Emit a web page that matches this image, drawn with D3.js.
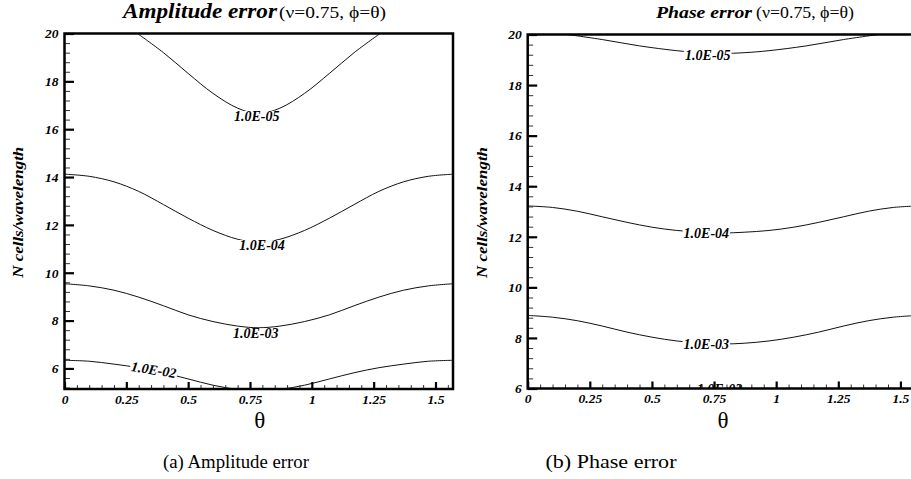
<!DOCTYPE html>
<html>
<head>
<meta charset="utf-8">
<script src="https://cdn.jsdelivr.net/npm/d3@7"></script>
<style>
   body { margin: 0; background: #fff; }
   svg { display: block; }
</style>
</head>
<body>
<div id="chart"></div>
<script>
// contour levels (theta in radians, N cells/wavelength)
var theta_full = [0, 0.1, 0.2, 0.3, 0.4, 0.5, 0.6, 0.7, 0.785, 0.871, 0.971, 1.071, 1.171, 1.271, 1.371, 1.471, 1.571];

// (a) amplitude error
var amp_theta_1e5 = [0.295, 0.4, 0.5, 0.6, 0.7, 0.785, 0.871, 0.971, 1.071, 1.171, 1.276];
var amp_n_1e5 = [20.0, 19.2, 18.33, 17.5, 16.88, 16.65, 16.88, 17.5, 18.33, 19.2, 20.0];
var amp_n_1e4 = [14.12, 14.03, 13.80, 13.40, 12.85, 12.28, 11.77, 11.40, 11.27, 11.40, 11.77, 12.28, 12.85, 13.40, 13.80, 14.03, 14.12];
var amp_n_1e3 = [9.54, 9.45, 9.27, 8.98, 8.62, 8.24, 7.96, 7.77, 7.70, 7.77, 7.96, 8.24, 8.62, 8.98, 9.27, 9.45, 9.54];
var amp_n_1e2 = [6.34, 6.30, 6.18, 6.03, 5.82, 5.56, 5.30, 5.12, 5.05, 5.12, 5.30, 5.56, 5.82, 6.03, 6.18, 6.30, 6.34];

// (b) phase error
var ph_theta_1e5 = [0.16, 0.3, 0.45, 0.6, 0.7, 0.785, 0.871, 0.971, 1.121, 1.271, 1.411];
var ph_n_1e5 = [20.0, 19.8, 19.55, 19.36, 19.28, 19.25, 19.28, 19.36, 19.55, 19.8, 20.0];
var ph_n_1e4 = [13.22, 13.16, 13.01, 12.79, 12.57, 12.38, 12.25, 12.18, 12.15, 12.18, 12.25, 12.38, 12.57, 12.79, 13.01, 13.16, 13.22];
var ph_n_1e3 = [8.89, 8.82, 8.68, 8.47, 8.23, 8.03, 7.88, 7.79, 7.76, 7.79, 7.88, 8.03, 8.23, 8.47, 8.68, 8.82, 8.89];

// contour label text and where it sits (label centre in data units)
var amp_labels = ["1.0E-05", "1.0E-04", "1.0E-03", "1.0E-02"];
var amp_label_theta = [0.777, 0.799, 0.773, 0.361];
var amp_label_n = [16.55, 11.15, 7.46, 5.95];
var amp_label_angle = [0, 0, 0, 9];

var ph_labels = ["1.0E-05", "1.0E-04", "1.0E-03", "1.0E-02"];
var ph_label_theta = [0.725, 0.719, 0.719, 0.772];
var ph_label_n = [19.19, 12.16, 7.75, 5.97];
var ph_label_angle = [0, 0, 0, 0];

// axis ticks
var x_major = [0, 0.25, 0.5, 0.75, 1, 1.25, 1.5];
var y_major = [6, 8, 10, 12, 14, 16, 18, 20];

var W = 911, H = 479;
var serif = "'Liberation Serif', 'Times New Roman', serif";

var svg = d3.select("#chart").append("svg")
   .attr("width", W)
   .attr("height", H);

function zip(xs, ys) {
   // pair two lists into [x, y] points
   var pts = [];
   for (var i = 0; i < xs.length; i++) {
      pts.push([xs[i], ys[i]]);
   }
   return pts;
}

function draw_panel(p) {
   var x = d3.scaleLinear().domain([0, Math.PI / 2]).range([p.left, p.right]);
   var y = d3.scaleLinear().domain([p.ymin, 20]).range([p.bottom, p.top]);

   var g = svg.append("g");

   g.append("clipPath").attr("id", "clip" + p.id)
      .append("rect")
      .attr("x", p.left).attr("y", p.top)
      .attr("width", p.right - p.left).attr("height", p.bottom - p.top);

   var plot = g.append("g").attr("clip-path", "url(#clip" + p.id + ")");

   var line = d3.line()
      .x(function (d) { return x(d[0]); })
      .y(function (d) { return y(d[1]); })
      .curve(d3.curveCatmullRom);

   p.contours.forEach(function (c) {
      plot.append("path")
         .attr("d", line(c))
         .attr("fill", "none")
         .attr("stroke", "#111")
         .attr("stroke-width", 1);
   });

   // labels sit on a white patch so the line looks broken
   for (var i = 0; i < p.labels.length; i++) {
      var lg = plot.append("g")
         .attr("transform", "translate(" + x(p.label_theta[i]) + "," + y(p.label_n[i]) + ") rotate(" + p.label_angle[i] + ")");
      var bg = lg.append("rect").attr("fill", "#fff");
      var t = lg.append("text")
         .attr("text-anchor", "middle")
         .attr("dy", "0.35em")
         .attr("font-family", serif)
         .attr("font-size", 14)
         .attr("font-weight", "bold")
         .attr("font-style", "italic")
         .attr("fill", "#000")
         .text(p.labels[i]);
      var bb = t.node().getBBox();
      bg.attr("x", bb.x - 1).attr("y", bb.y + 2)
         .attr("width", bb.width + 2).attr("height", bb.height - 4);
   }

   // minor ticks
   var x_minor = d3.range(0, 32).map(function (i) { return i * 0.05; })
      .filter(function (v) { return Math.abs(v / 0.25 - Math.round(v / 0.25)) > 1e-6; });
   var y_minor = d3.range(0, 51).map(function (i) { return i * 0.4; })
      .filter(function (v) { return v > p.ymin && v < 20 && Math.abs(v / 2 - Math.round(v / 2)) > 1e-6; });

   g.append("g")
      .attr("transform", "translate(0," + p.bottom + ")")
      .call(d3.axisBottom(x).tickValues(x_minor).tickSize(-4).tickFormat(""))
      .call(function (a) { a.select(".domain").remove(); })
      .selectAll("line").attr("stroke", "#333").attr("stroke-width", 1);

   g.append("g")
      .attr("transform", "translate(" + p.left + ",0)")
      .call(d3.axisLeft(y).tickValues(y_minor).tickSize(-5.5).tickFormat(""))
      .call(function (a) { a.select(".domain").remove(); })
      .selectAll("line").attr("stroke", "#333").attr("stroke-width", 1);

   // major ticks with labels
   var xa = g.append("g")
      .attr("transform", "translate(0," + p.bottom + ")")
      .call(d3.axisBottom(x).tickValues(x_major).tickSize(-7).tickPadding(5)
         .tickFormat(function (d) { return String(d); }));
   xa.select(".domain").remove();
   xa.selectAll("line").attr("stroke", "#000").attr("stroke-width", 2.2);
   xa.attr("font-family", serif).attr("font-size", 13.5)
      .attr("font-weight", "bold").attr("font-style", "italic");

   var ya = g.append("g")
      .attr("transform", "translate(" + p.left + ",0)")
      .call(d3.axisLeft(y).tickValues(y_major).tickSize(-9.5).tickPadding(6)
         .tickFormat(function (d) { return String(d); }));
   ya.select(".domain").remove();
   ya.selectAll("line").attr("stroke", "#000").attr("stroke-width", 2.2);
   ya.attr("font-family", serif).attr("font-size", 13.5)
      .attr("font-weight", "bold").attr("font-style", "italic");

   // frame
   g.append("rect")
      .attr("x", p.left).attr("y", p.top)
      .attr("width", p.right - p.left).attr("height", p.bottom - p.top)
      .attr("fill", "none")
      .attr("stroke", "#000")
      .attr("stroke-width", 2.5);

   // axis titles
   g.append("text")
      .attr("transform", "translate(" + p.ylab_x + "," + ((p.top + p.bottom) / 2 + 1) + ") rotate(-90)")
      .attr("text-anchor", "middle")
      .attr("font-family", serif)
      .attr("font-size", 15)
      .attr("font-weight", "bold")
      .attr("font-style", "italic")
      .attr("textLength", 131)
      .attr("lengthAdjust", "spacingAndGlyphs")
      .text("N cells/wavelength");

   g.append("text")
      .attr("x", (p.left + p.left + 389.5) / 2 + 0.5)
      .attr("y", 428)
      .attr("text-anchor", "middle")
      .attr("font-family", serif)
      .attr("font-size", 23)
      .text("\u03b8");

   // chart title, bold italic name then the parameters
   g.append("text")
      .attr("x", p.title_x)
      .attr("y", 17.5)
      .attr("font-family", serif)
      .attr("font-size", p.title_size)
      .attr("font-weight", "bold")
      .attr("font-style", "italic")
      .attr("textLength", p.title_len)
      .attr("lengthAdjust", "spacingAndGlyphs")
      .text(p.title);
   g.append("text")
      .attr("x", p.sub_x)
      .attr("y", 17.5)
      .attr("font-family", serif)
      .attr("font-size", p.sub_size)
      .attr("textLength", p.sub_len)
      .attr("lengthAdjust", "spacingAndGlyphs")
      .text("(\u03bd=0.75, \u03d5=\u03b8)");

   // caption under the panel
   g.append("text")
      .attr("x", p.cap_x)
      .attr("y", 468)
      .attr("text-anchor", "middle")
      .attr("font-family", serif)
      .attr("font-size", 18.5)
      .attr("textLength", p.cap_len)
      .attr("lengthAdjust", "spacingAndGlyphs")
      .text(p.caption);
}

draw_panel({
   id: "a",
   left: 64.5, right: 453, top: 33.5, bottom: 389, ymin: 5.14,
   contours: [
      zip(amp_theta_1e5, amp_n_1e5),
      zip(theta_full, amp_n_1e4),
      zip(theta_full, amp_n_1e3),
      zip(theta_full, amp_n_1e2)
   ],
   labels: amp_labels, label_theta: amp_label_theta, label_n: amp_label_n, label_angle: amp_label_angle,
   ylab_x: 23,
   title: "Amplitude error", title_size: 20, title_x: 123, title_len: 154,
   sub_size: 17, sub_x: 279, sub_len: 107,
   caption: "(a) Amplitude error", cap_x: 236, cap_len: 146
});

draw_panel({
   id: "b",
   left: 527.7, right: 918, top: 34.5, bottom: 388.5, ymin: 6,
   contours: [
      zip(ph_theta_1e5, ph_n_1e5),
      zip(theta_full, ph_n_1e4),
      zip(theta_full, ph_n_1e3)
   ],
   labels: ph_labels, label_theta: ph_label_theta, label_n: ph_label_n, label_angle: ph_label_angle,
   ylab_x: 487,
   title: "Phase error", title_size: 16.5, title_x: 656, title_len: 96,
   sub_size: 16, sub_x: 756, sub_len: 98,
   caption: "(b) Phase error", cap_x: 611, cap_len: 131
});
</script>
</body>
</html>
